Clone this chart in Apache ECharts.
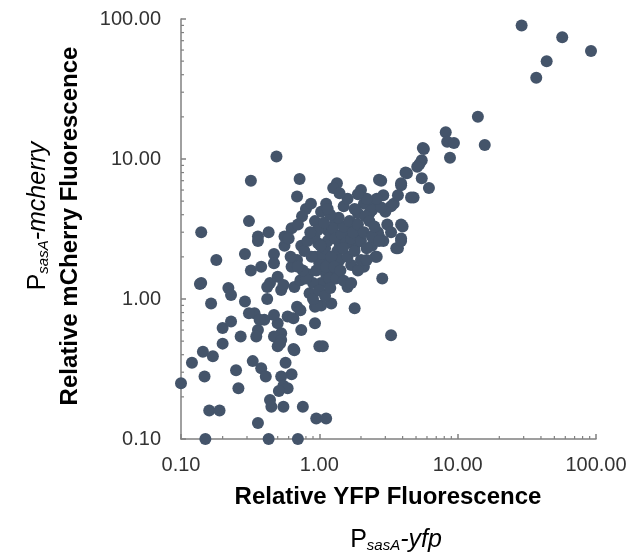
<!DOCTYPE html>
<html>
<head>
<meta charset="UTF-8"/>
<script src="https://cdn.jsdelivr.net/npm/echarts@6/dist/echarts.min.js"></script>
<title>PsasA-yfp vs PsasA-mcherry</title>
<style>
  html, body { margin: 0; padding: 0; background: #fff; }
  #main { width: 641px; height: 557px; }
</style>
</head>
<body>
<div id="main"></div>
<script type="text/javascript">
    // points, [YFP, mCherry]
    var tailPoints = [
        [29, 90], [57, 74], [92, 59], [44, 50], [37, 38], [14, 20], [8.2, 15.5], [8.4, 13.3], [9.4, 13],
        [15.7, 12.6], [8.8, 10.2], [5.7, 11.8], [5.6, 12], [5.5, 9.8], [5.3, 9.2], [5.1, 8.8], [4.2, 8.0],
        [4.3, 7.9], [3.9, 6.5], [5.5, 7.3], [6.2, 6.2], [4.8, 5.3], [2.8, 7.0], [2.7, 7.1], [2.0, 6.0],
        [1.34, 6.7], [1.26, 6.2], [3.45, 4.8], [4.0, 3.3], [3.7, 2.3], [3.9, 2.7], [2.85, 1.4], [2.55, 2.0],
        [2.7, 2.8], [2.3, 4.1], [1.77, 3.3], [2.1, 4.8], [2.45, 5.0], [1.9, 4.1], [3.9, 6.7], [3.7, 5.5],
        [4.6, 5.3], [2.9, 5.5], [3.3, 4.6], [2.4, 4.3], [1.8, 4.4], [2.15, 3.9], [1.5, 4.6], [1.12, 4.8],
        [1.03, 4.2], [1.3, 3.5], [1.7, 3.5], [1.15, 3.1], [3.9, 3.4], [2.65, 3.0], [2.0, 3.0], [1.6, 2.8]
    ];
    var upperLeftPoints = [
        [0.49, 10.4], [0.32, 7.0], [0.72, 7.2], [0.69, 5.4], [0.31, 3.6], [0.14, 3.0], [0.8, 4.4], [0.87, 4.8],
        [0.75, 3.9], [0.36, 2.8], [0.43, 3.0], [0.63, 3.2], [0.7, 3.4], [0.93, 3.6], [0.56, 2.8], [0.18, 1.9],
        [0.14, 1.3], [0.22, 1.2], [0.23, 1.07], [0.29, 2.1], [0.36, 2.6], [0.32, 1.6], [0.38, 1.7], [0.44, 1.3],
        [0.42, 1.0], [0.5, 1.44], [0.56, 2.4], [0.53, 1.16], [0.63, 1.7], [0.74, 2.4], [0.66, 1.22], [0.83, 1.5],
        [0.93, 2.0], [0.69, 1.9], [0.47, 2.1], [0.98, 2.5], [0.47, 1.8], [0.137, 1.28], [0.42, 1.22],
        [0.55, 1.26], [0.73, 1.36]
    ];
    var lowerPoints = [
        [0.165, 0.93], [0.29, 0.96], [0.2, 0.62], [0.23, 0.69], [0.34, 0.79], [0.69, 0.88], [0.59, 0.75],
        [0.5, 0.67], [0.4, 0.71], [0.36, 0.6], [0.93, 0.88], [0.93, 0.67], [0.74, 0.6], [0.53, 0.57],
        [0.47, 0.54], [0.27, 0.54], [1.22, 0.93], [1.03, 0.9], [1.8, 0.86], [3.3, 0.55], [0.2, 0.48],
        [0.144, 0.42], [0.17, 0.39], [0.12, 0.35], [0.1, 0.25], [0.148, 0.28], [0.25, 0.31], [0.26, 0.23],
        [0.16, 0.16], [0.19, 0.16], [0.15, 0.1], [0.33, 0.36], [0.38, 0.32], [0.41, 0.28], [0.53, 0.51],
        [0.5, 0.46], [0.66, 0.43], [0.57, 0.35], [0.63, 0.29], [0.53, 0.28], [0.55, 0.24], [0.59, 0.23],
        [0.51, 0.22], [0.44, 0.19], [0.45, 0.17], [0.55, 0.17], [0.76, 0.17], [0.36, 0.13], [0.43, 0.1],
        [0.7, 0.1], [0.95, 0.14], [1.0, 0.46], [1.06, 0.46], [1.12, 0.14], [0.31, 0.79], [0.37, 0.71],
        [0.47, 0.77], [0.65, 0.73], [0.73, 0.83], [0.52, 0.48], [0.65, 0.44], [0.35, 0.54], [0.96, 0.9]
    ];
    var clusterPoints = [
        [1.22, 1.9], [1.33, 1.57], [1.7, 1.75], [2.1, 1.7], [2.6, 2.0], [2.4, 2.4], [3.6, 2.3], [3.9, 2.6],
        [2.9, 2.6], [1.8, 2.4], [1.4, 2.5], [1.6, 1.22], [1.19, 1.3], [1.03, 1.3], [1.03, 1.95], [1.12, 1.5],
        [0.85, 1.1], [0.9, 1.3], [0.95, 1.6], [1.0, 1.8], [1.05, 2.1], [1.1, 2.3], [1.15, 2.6], [1.2, 2.9],
        [1.25, 3.2], [1.3, 2.7], [1.35, 2.2], [1.4, 1.9], [1.45, 2.9], [1.5, 3.3], [1.55, 2.5], [1.6, 2.0],
        [1.65, 3.6], [1.7, 2.7], [1.75, 3.0], [1.8, 2.2], [1.9, 3.4], [2.0, 2.6], [2.1, 3.0], [2.2, 2.3],
        [2.3, 3.6], [2.4, 2.8], [2.5, 3.3], [0.8, 1.4], [0.88, 2.0], [0.92, 2.8], [0.97, 3.1], [1.02, 2.4],
        [1.08, 3.5], [1.12, 1.7], [1.18, 1.4], [1.22, 2.0], [1.28, 1.7], [1.32, 1.4], [1.38, 3.8], [1.42, 1.6],
        [1.48, 2.3], [0.76, 1.6], [0.78, 2.2], [0.82, 2.6], [0.86, 3.0], [0.7, 1.7], [0.62, 2.0], [0.6, 2.7],
        [0.9, 1.0], [1.0, 1.15], [1.1, 1.05], [1.2, 1.2], [1.5, 1.35], [1.7, 1.3], [1.9, 1.6], [2.0, 1.9],
        [2.2, 1.9], [2.7, 2.6], [3.1, 3.4], [3.3, 3.0], [3.0, 4.2], [2.8, 4.5], [2.6, 5.2], [2.2, 5.2],
        [1.9, 5.6], [1.6, 5.2], [1.4, 5.7], [1.2, 4.0], [1.15, 4.4]
    ];
    var axisMin = 0.1;
    var axisMax = 100;
    var minorTickValues = [0.2, 0.3, 0.4, 0.5, 0.6, 0.7, 0.8, 0.9, 2, 3, 4, 5, 6, 7, 8, 9, 20, 30, 40, 50, 60, 70, 80, 90];

    var dotColor = '#44546A';
    var axisColor = '#808080';
    var textColor = '#333';
    var font = '"Liberation Sans", Arial, sans-serif';

    var allPoints = tailPoints.concat(upperLeftPoints, lowerPoints, clusterPoints);

    var myChart = echarts.init(document.getElementById('main'));

    function logAxis() {
        return {
            type: 'log',
            logBase: 10,
            min: axisMin,
            max: axisMax,
            axisLine: {lineStyle: {color: axisColor, width: 1.5}},
            axisTick: {show: true, inside: true, length: 5, lineStyle: {color: axisColor, width: 1.5}},
            splitLine: {show: false},
            axisLabel: {
                fontFamily: font,
                fontSize: 20,
                color: textColor,
                formatter: function (v) { return Number(v).toFixed(2); }
            }
        };
    }

    var xAxis = logAxis();
    xAxis.axisLabel.margin = 16;
    var yAxis = logAxis();
    yAxis.axisLabel.margin = 20;

    var textRich = {
        b: {fontFamily: font, fontSize: 24, fontWeight: 'bold', color: textColor},
        n: {fontFamily: font, fontSize: 25, color: textColor},
        s: {fontFamily: font, fontSize: 15, fontStyle: 'italic', color: textColor, padding: [12, 0, 0, 0]},
        i: {fontFamily: font, fontSize: 25, fontStyle: 'italic', color: textColor}
    };

    var option = {
        animation: false,
        grid: {left: 181, right: 45, top: 19, bottom: 118, containLabel: false},
        xAxis: xAxis,
        yAxis: yAxis,
        graphic: [
            {type: 'text', x: 388, y: 497, style: {text: '{b|Relative YFP Fluorescence}', rich: textRich, align: 'center', verticalAlign: 'middle'}},
            {type: 'text', x: 396, y: 540, style: {text: '{n|P}{s|sasA}{i|-yfp}', rich: textRich, align: 'center', verticalAlign: 'middle'}},
            {type: 'text', x: 70, y: 226, rotation: Math.PI / 2, style: {text: '{b|Relative mCherry Fluorescence}', rich: textRich, align: 'center', verticalAlign: 'middle'}},
            {type: 'text', x: 38, y: 216, rotation: Math.PI / 2, style: {text: '{n|P}{s|sasA}{i|-mcherry}', rich: textRich, align: 'center', verticalAlign: 'middle'}}
        ],
        series: [
            {
                // minor ticks on the x axis
                type: 'custom',
                silent: true,
                data: minorTickValues.map(function (v) { return [v, axisMin]; }),
                renderItem: function (params, api) {
                    var p = api.coord([api.value(0), axisMin]);
                    return {type: 'line', shape: {x1: p[0], y1: p[1], x2: p[0], y2: p[1] - 3},
                        style: {stroke: axisColor, lineWidth: 1.2}};
                }
            },
            {
                // minor ticks on the y axis
                type: 'custom',
                silent: true,
                data: minorTickValues.map(function (v) { return [axisMin, v]; }),
                renderItem: function (params, api) {
                    var p = api.coord([axisMin, api.value(1)]);
                    return {type: 'line', shape: {x1: p[0], y1: p[1], x2: p[0] + 3, y2: p[1]},
                        style: {stroke: axisColor, lineWidth: 1.2}};
                }
            },
            {
                type: 'scatter',
                symbol: 'circle',
                symbolSize: 12,
                clip: false,
                itemStyle: {color: dotColor, opacity: 1},
                data: allPoints
            }
        ]
    };
    myChart.setOption(option);
</script>
</body>
</html>
